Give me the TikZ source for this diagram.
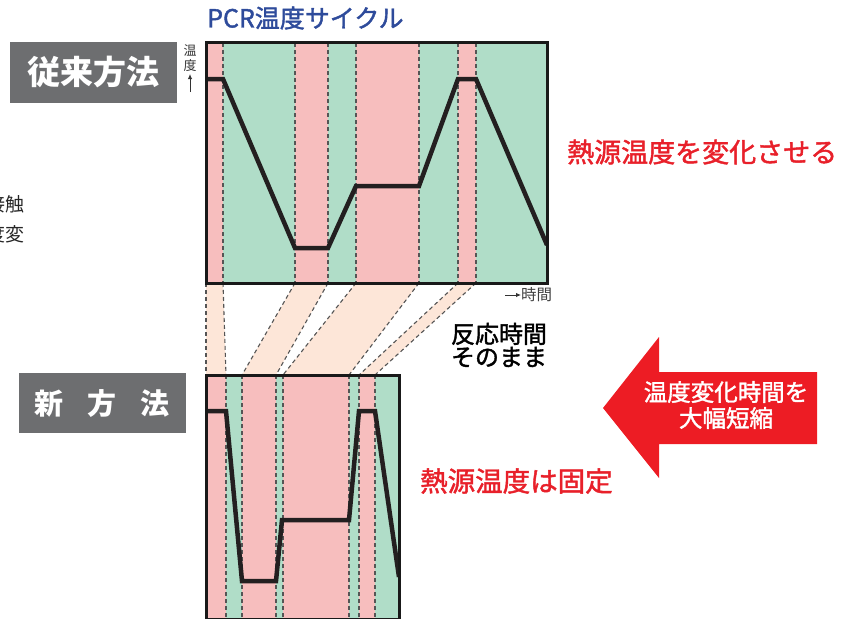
\documentclass[tikz,border=0pt]{standalone}
\usepackage{fontspec}
\usetikzlibrary{arrows.meta}
\setmainfont{Noto Sans CJK JP}
\newfontfamily\jpmed[FakeBold=1.6]{Noto Sans CJK JP}
\definecolor{cpink}{RGB}{247,190,190}
\definecolor{cgreen}{RGB}{176,221,200}
\definecolor{cband}{RGB}{253,230,216}
\definecolor{cdash}{RGB}{85,85,85}
\definecolor{ccurve}{RGB}{35,31,32}
\definecolor{cgraybox}{RGB}{109,110,112}
\definecolor{ctitle}{RGB}{46,75,155}
\definecolor{cred}{RGB}{232,32,42}
\definecolor{carrow}{RGB}{237,28,36}
\begin{document}
\begin{tikzpicture}[x=1pt,y=-1pt,
  divider/.style={draw=cdash,dash pattern=on 4pt off 3pt,line width=1.1pt},
  curve/.style={draw=ccurve,line width=4.5pt,line join=miter},
  frame/.style={draw=black!90,line width=3pt},
  labelbox/.style={fill=cgraybox,text=white,inner sep=0pt,font=\bfseries\fontsize{33}{33}\selectfont},
  axisarrow/.style={-{Latex[length=5pt,width=4.5pt]},line width=0.9pt,black!80},
  txt/.style={inner sep=0pt}]
\useasboundingbox (0,0) rectangle (845,618);

% ---- top chart boundaries
\foreach \i/\x in {0/206,1/223,2/295,3/328,4/356,5/419,6/458,7/476,8/547}{
  \coordinate (tt\i) at (\x,43);
  \coordinate (tb\i) at (\x,283);
}
\foreach \i/\x in {0/206,1/226,2/242,3/276,4/283,5/349,6/359,7/375,8/399}{
  \coordinate (bt\i) at (\x,375);
  \coordinate (bb\i) at (\x,619);
}
% fills
\foreach \a/\b/\c in {0/1/cpink,1/2/cgreen,2/3/cpink,3/4/cgreen,4/5/cpink,5/6/cgreen,6/7/cpink,7/8/cgreen}{
  \fill[\c] (tt\a) rectangle (tb\b);
  \fill[\c] (bt\a) rectangle (bb\b);
}
% bands between charts
\foreach \a/\b in {0/1,2/3,4/5,6/7}{
  \fill[cband] (tb\a) -- (tb\b) -- (bt\b) -- (bt\a) -- cycle;
}
% dashed dividers
\foreach \i in {1,...,7}{
  \draw[divider] (tt\i) -- (tb\i);
  \draw[divider] (bt\i) -- (bb\i);
}
\foreach \i in {0,...,7}{
  \draw[divider] (tb\i) -- (bt\i);
}
% curves
\begin{scope}
\clip (tt0) rectangle (tb8);
\draw[curve] (206,79) -- (223,79) -- (295,248) -- (328,248) -- (356,186) -- (419,186) -- (458,79) -- (476,79) -- (547,245);
\end{scope}
\begin{scope}
\clip (bt0) rectangle (bb8);
\draw[curve] (206,411) -- (226,411) -- (242,581) -- (276,581) -- (282,520) -- (349,520) -- (359,411) -- (375,411) -- (399,577);
\end{scope}
% frames
\draw[frame] (tt0) rectangle (tb8);
\draw[frame] (bt0) rectangle (bb8);

% title
\node[txt,anchor=west,text=ctitle,font=\jpmed\fontsize{25}{25}\selectfont] (title) at (207,18) {PCR温度サイクル};

% axis labels
\node[txt,font=\fontsize{13}{13}\selectfont,text=black!80] (on) at (190,51) {温};
\node[txt,font=\fontsize{13}{13}\selectfont,text=black!80] (do) at (190,66) {度};
\coordinate (ya0) at (190,92);
\coordinate (ya1) at (190,74);
\draw[axisarrow] (ya0) -- (ya1);
\coordinate (xa0) at (505,295);
\coordinate (xa1) at (521,295);
\draw[axisarrow] (xa0) -- (xa1);
\node[txt,anchor=west,font=\fontsize{15.5}{15.5}\selectfont,text=black!75] (jikan) at (521,295) {時間};

% left label boxes
\node[labelbox,minimum width=167pt,minimum height=60pt] (old) at (93.3,72.5) {従来方法};
\node[labelbox,minimum width=167pt,minimum height=60pt,font=\bfseries\fontsize{29}{29}\selectfont] (new) at (102.3,403.3) {新\hspace{24pt}方\hspace{24pt}法};

% cut-off text at left edge (as in the reference)
\node[txt,anchor=east,font=\fontsize{19}{19}\selectfont,text=black!85] (cut1) at (25,204) {接触};
\node[txt,anchor=east,font=\fontsize{19}{19}\selectfont,text=black!85] (cut2) at (25,234) {温度変};

% right texts
\node[txt,anchor=west,text=cred,font=\jpmed\fontsize{27}{27}\selectfont] (henka) at (567,152) {熱源温度を変化させる};
\node[txt,anchor=west,text=cred,font=\jpmed\fontsize{27.5}{27.5}\selectfont] (kotei) at (420,481) {熱源温度は固定};
\node[txt,align=center,font=\jpmed\fontsize{24}{23}\selectfont] (sonomama) at (499,345) {反応時間\\そのまま};

% big arrow
\fill[carrow] (603,408) -- (659,337) -- (659,372) -- (817,372) -- (817,444) -- (659,444) -- (659,478) -- cycle;
\node[txt,align=center,text=white,font=\jpmed\fontsize{23.5}{26}\selectfont] (tanshuku) at (726,405) {温度変化時間を\\大幅短縮};
\end{tikzpicture}
\end{document}
